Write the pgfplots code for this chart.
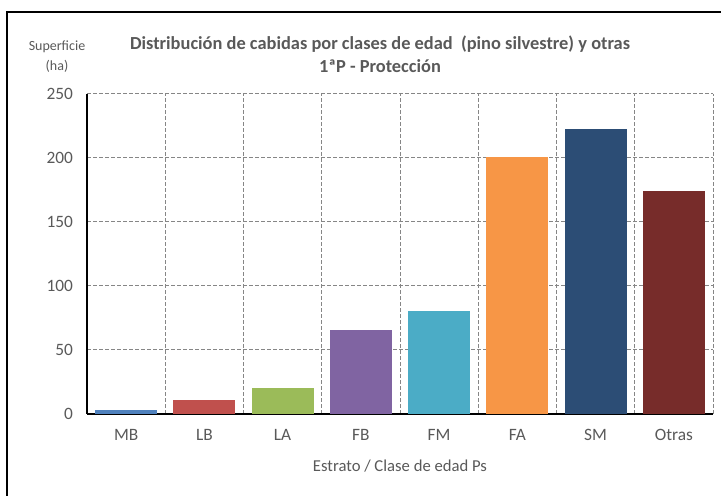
\documentclass[border=0pt]{standalone}
\usepackage{pgfplots}
\pgfplotsset{compat=1.18}
\usepackage{fontspec}
\setmainfont{Carlito}
\definecolor{cMB}{HTML}{4F81BD}
\definecolor{cLB}{HTML}{C0504D}
\definecolor{cLA}{HTML}{9BBB59}
\definecolor{cFB}{HTML}{8064A2}
\definecolor{cFM}{HTML}{4BACC6}
\definecolor{cFA}{HTML}{F79646}
\definecolor{cSM}{HTML}{2C4D75}
\definecolor{cOT}{HTML}{772C2A}
\definecolor{txt}{HTML}{595959}
\definecolor{grd}{HTML}{868686}
\begin{document}
\begin{tikzpicture}
\useasboundingbox (0,0) rectangle (540.75pt,372pt);
\draw[line width=1.1pt] (5.25pt,0) -- (5.25pt,363pt) -- (540.75pt,363pt);
\node[txt, font=\fontsize{13.8}{16}\selectfont\bfseries] at (285pt,339pt) {Distribución de cabidas por clases de edad~~(pino silvestre) y otras};
\node[txt, font=\fontsize{13.8}{16}\selectfont\bfseries] at (285pt,322.5pt) {1ªP - Protección};
\node[txt, font=\fontsize{10.5}{12}\selectfont] at (42.75pt,336.75pt) {Superficie};
\node[txt, font=\fontsize{10.5}{12}\selectfont] at (42.75pt,322.5pt) {(ha)};
\begin{axis}[
  at={(65.25pt,61.5pt)}, anchor=south west,
  width=469.5pt, height=240pt, scale only axis,
  xmin=-0.5, xmax=7.5, ymin=0, ymax=250,
  xtick={0,...,7},
  xticklabels={MB,LB,LA,FB,FM,FA,SM,Otras},
  minor xtick={0.5,1.5,...,7.5},
  ytick={0,50,...,250},
  xminorgrids, ymajorgrids,
  minor grid style={grd, dash pattern=on 3pt off 1.5pt, line width=0.75pt},
  major grid style={grd, dash pattern=on 3pt off 1.5pt, line width=0.75pt},
  axis x line*=bottom, axis y line*=left,
  axis line style={black, line width=1pt, -},
  major tick length=0pt, minor tick length=0pt,
  tick label style={txt, font=\fontsize{13}{15}\selectfont},
  /pgf/number format/assume math mode=true,
  yticklabel style={anchor=east, xshift=-7pt},
  xticklabel style={yshift=-8pt},
  xlabel={Estrato / Clase de edad Ps},
  xlabel style={txt, font=\fontsize{12.5}{15}\selectfont, at={(axis description cs:0.5,0)}, anchor=center, yshift=-39pt},
  ybar, bar width=46.5pt, bar shift=0pt,
  clip=false,
]
\addplot[fill=cMB, draw=none] coordinates {(0,3)};
\addplot[fill=cLB, draw=none] coordinates {(1,11)};
\addplot[fill=cLA, draw=none] coordinates {(2,20)};
\addplot[fill=cFB, draw=none] coordinates {(3,65.5)};
\addplot[fill=cFM, draw=none] coordinates {(4,80.5)};
\addplot[fill=cFA, draw=none] coordinates {(5,200.5)};
\addplot[fill=cSM, draw=none] coordinates {(6,222.5)};
\addplot[fill=cOT, draw=none] coordinates {(7,174)};
\end{axis}
\end{tikzpicture}
\end{document}
